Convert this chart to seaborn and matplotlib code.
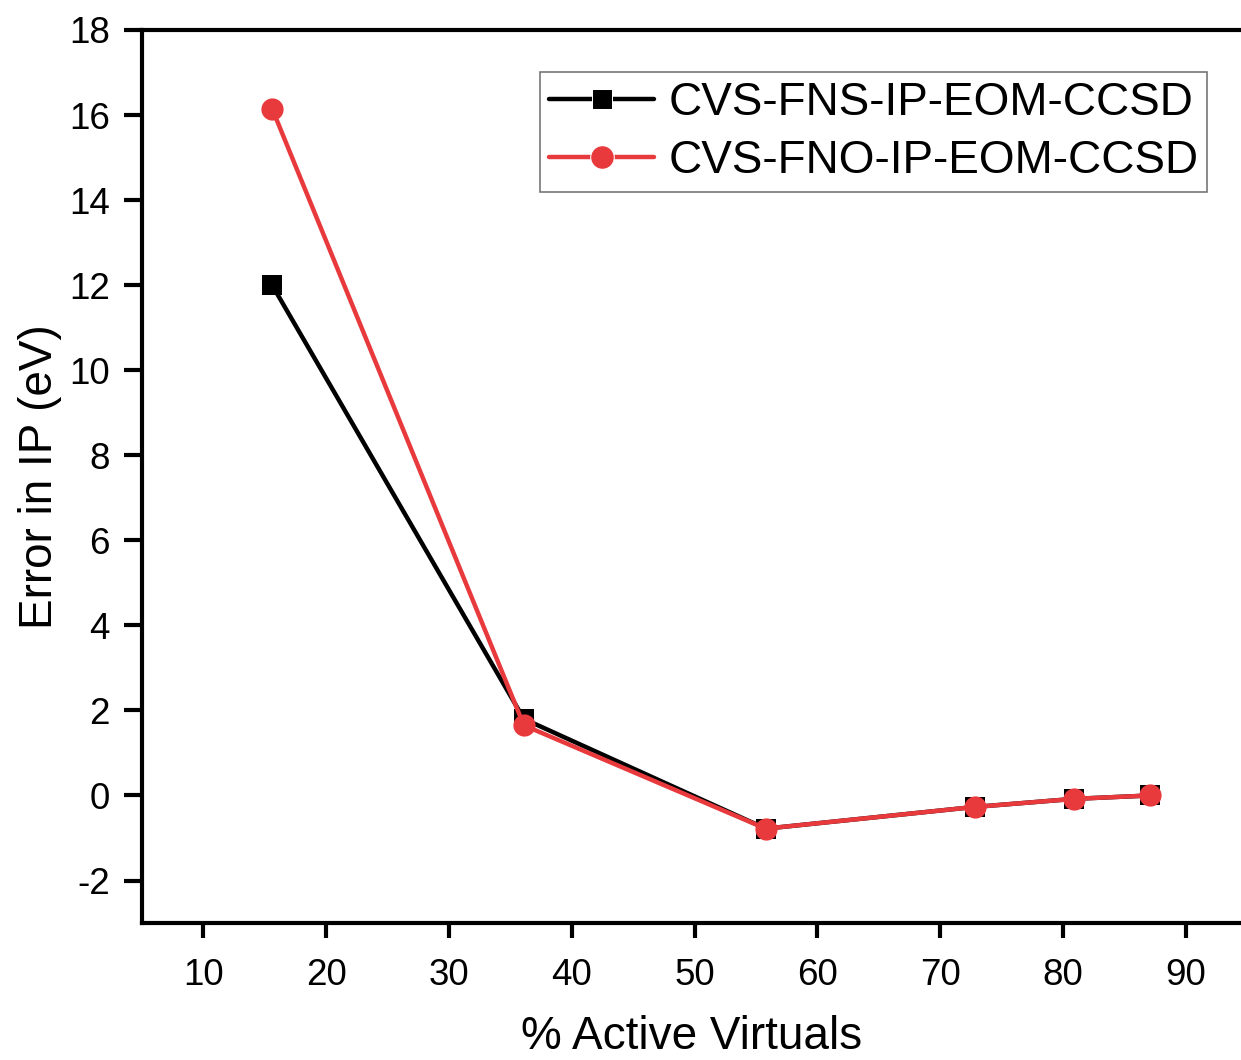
import matplotlib
matplotlib.use("Agg")
import matplotlib.pyplot as plt
import seaborn as sns
import pandas as pd

active_virtuals = [15.6, 36.1, 55.8, 72.8, 80.9, 87.1]
fns_error = [12.0, 1.8, -0.78, -0.27, -0.08, 0.0]
fno_error = [16.15, 1.65, -0.78, -0.27, -0.08, 0.0]
series_names = ["CVS-FNS-IP-EOM-CCSD", "CVS-FNO-IP-EOM-CCSD"]

df = pd.concat([
    pd.DataFrame({"x": active_virtuals, "y": fns_error, "method": series_names[0]}),
    pd.DataFrame({"x": active_virtuals, "y": fno_error, "method": series_names[1]}),
])

sns.set_theme(style="ticks")
plt.rcParams["font.family"] = ["Liberation Sans", "DejaVu Sans"]
plt.rcParams["axes.unicode_minus"] = False
plt.rcParams["text.color"] = "black"
plt.rcParams["axes.labelcolor"] = "black"

fig = plt.figure(figsize=(12.41, 10.60), dpi=100)
ax = fig.add_axes([0.1144, 0.1292, 0.8856, 0.8425])

sns.lineplot(data=df, x="x", y="y", hue="method", style="method",
             palette={series_names[0]: "black", series_names[1]: "#E83A3D"},
             markers={series_names[0]: "s", series_names[1]: "o"},
             dashes=False, linewidth=3.2, ax=ax, sort=False)
for line, ms in zip(ax.lines, [14, 16]):
    line.set_markersize(ms)
    line.set_markeredgewidth(0)

ax.set_xlim(5, 94.5)
ax.set_ylim(-3, 18)
ax.set_xticks([10, 20, 30, 40, 50, 60, 70, 80, 90])
ax.set_yticks(list(range(-2, 19, 2)))
ax.tick_params(axis="both", labelsize=26.5, width=3, colors="black", direction="out")
ax.tick_params(axis="y", length=13, pad=10)
ax.tick_params(axis="x", length=11, pad=14)
for s in ["left", "bottom", "top"]:
    ax.spines[s].set_linewidth(3)
    ax.spines[s].set_color("black")
ax.spines["right"].set_visible(False)
ax.spines["top"].set_visible(True)

ax.set_xlabel("% Active Virtuals", fontsize=33, labelpad=16, color="black")
ax.set_ylabel("Error in IP (eV)", fontsize=33, labelpad=5, color="black")

handles, labels = ax.get_legend_handles_labels()
leg = ax.legend(handles, labels, loc="upper right", bbox_to_anchor=(0.9695, 0.953),
                fontsize=33, frameon=True, fancybox=False, handlelength=2.3,
                borderpad=0.2, labelspacing=0.3, handletextpad=0.3, borderaxespad=0)
leg.get_frame().set_edgecolor("#555555")
leg.get_frame().set_linewidth(1.2)
for t in leg.get_texts():
    t.set_color("black")
for lh, ms in zip(leg.legend_handles, [15, 17]):
    lh.set_markersize(ms)
    lh.set_linewidth(3.2)

fig.savefig("out.png", dpi=100)
